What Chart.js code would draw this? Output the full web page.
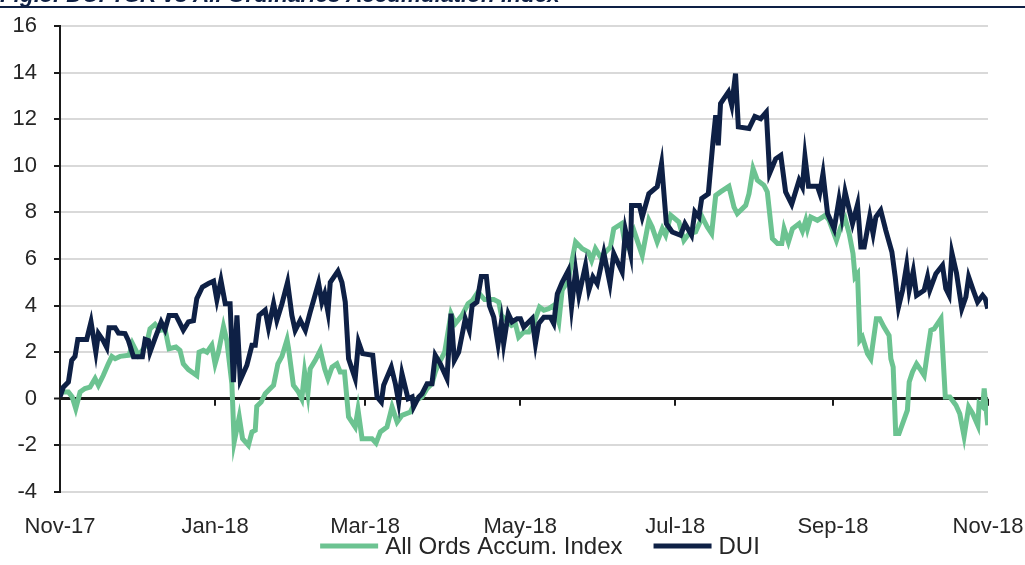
<!DOCTYPE html>
<html><head><meta charset="utf-8">
<script src="https://cdn.jsdelivr.net/npm/chart.js@4.4.0/dist/chart.umd.min.js"></script>
<style>
html,body{margin:0;padding:0;background:#fff;overflow:hidden;width:1025px;height:565px;}
#wrap{position:relative;width:1025px;height:565px;overflow:hidden;}
#title{position:absolute;left:0;top:-16px;font:italic bold 22.5px "Liberation Sans",Arial,sans-serif;color:#0e2045;white-space:nowrap;line-height:22.5px;z-index:2;}
#rule{position:absolute;left:0;top:6px;width:1025px;height:2px;background:#0e2045;z-index:2;}
canvas{position:absolute;left:0;top:0;}
</style></head>
<body><div id="wrap"><div id="title">Fig.5: DUI TSR vs All Ordinaries Accumulation Index</div><div id="rule"></div><canvas id="c" width="1025" height="565"></canvas></div>
<script>
// x-axis ticks (days since 1 Nov 2017)
const tickDays = [0, 61, 120, 181, 242, 304, 365];
const tickLabels = ['Nov-17', 'Jan-18', 'Mar-18', 'May-18', 'Jul-18', 'Sep-18', 'Nov-18'];

// DUI series (day offset, %)
const duiDays = [0,1.3,3.3,4.6,5.9,7.0,10.5,12.2,14.1,15.1,17.0,18.4,19.3,21.7,23.0,25.6,26.9,28.9,32.4,33.5,34.8,35.4,37.4,39.8,41.3,42.9,45.6,46.9,48.5,50.5,52.5,53.8,56.0,58.4,60.4,61.7,63.3,65.0,66.9,68.2,69.6,70.9,73.5,75.5,76.8,78.3,80.7,82.0,84.0,85.3,87.3,89.5,91.2,92.5,94.5,96.5,98.4,101.7,103.0,104.1,105.4,106.3,109.3,110.9,112.2,113.5,116.1,117.4,119.0,123.0,124.7,126.4,127.3,130.3,131.9,133.2,134.5,136.9,138.5,139.1,141.1,142.4,144.4,146.3,147.6,149.6,152.2,153.8,155.1,156.8,159.4,161.0,162.1,164.0,165.7,167.7,168.9,170.6,172.3,173.6,174.5,176.3,177.8,179.8,181.1,182.4,185.7,187.0,188.3,190.3,192.9,194.2,195.6,197.5,199.9,201.2,202.8,204.1,206.7,208.0,209.6,211.3,213.9,216.3,217.8,221.1,222.4,224.4,224.8,227.9,229.0,231.6,234.9,236.6,238.5,240.8,244.1,245.8,248.4,249.7,251.3,252.4,255.0,256.8,257.9,258.9,259.8,262.9,264.2,265.7,266.8,271.0,273.3,275.6,277.8,279.1,281.5,283.5,285.4,287.8,290.7,292.0,293.0,294.4,297.9,298.8,300.1,301.9,304.5,306.4,307.5,308.8,311.7,313.7,315.0,316.3,318.5,319.8,320.9,322.8,324.8,327.2,328.5,329.8,331.4,333.0,334.0,335.6,336.9,339.9,341.2,342.1,344.5,347.1,348.4,349.7,350.8,352.6,354.7,356.3,357.4,359.2,360.9,362.9,363.9,364.9];
const duiValues = [0.08,0.5,0.72,1.65,1.82,2.55,2.55,3.3,2.0,2.8,2.5,2.2,3.05,3.05,2.82,2.8,2.5,1.8,1.8,2.55,2.5,2.0,2.6,3.3,2.97,3.58,3.58,3.3,2.95,3.3,3.35,4.3,4.8,4.95,5.05,4.25,5.08,4.08,4.08,0.72,3.58,0.8,1.44,2.3,2.3,3.58,3.8,3.05,4.08,3.37,4.08,5.0,3.58,2.94,3.37,2.94,3.72,4.97,4.15,4.5,3.72,5.0,5.48,5.0,4.15,1.72,0.87,2.44,1.94,1.87,0.08,-0.14,0.58,1.36,0.65,-0.14,1.08,0.0,0.08,-0.35,0.08,0.22,0.65,0.65,1.87,1.5,0.87,3.65,1.65,2.0,3.44,2.94,4.0,4.15,5.25,5.25,4.0,3.5,2.34,3.3,2.37,3.65,3.3,3.44,3.44,3.08,3.44,2.37,3.23,3.5,3.5,3.23,4.5,5.0,5.5,3.94,5.5,4.44,5.73,4.66,5.23,4.94,6.26,4.94,6.23,5.44,7.23,6.23,8.3,8.3,7.8,8.8,9.1,10.1,7.52,7.16,7.02,7.52,7.02,8.02,7.8,8.6,8.8,11.0,12.17,10.88,12.67,13.17,12.6,13.96,11.67,11.6,12.12,12.02,12.3,9.67,10.3,10.45,8.88,8.35,9.38,9.09,10.4,9.12,9.12,8.83,9.67,7.95,7.3,8.55,7.83,8.88,7.52,8.35,6.51,6.51,7.83,7.09,7.8,8.09,7.23,6.3,5.23,3.94,4.66,5.73,4.66,5.48,4.44,4.66,5.23,4.66,5.37,5.73,4.73,4.44,6.26,5.4,3.87,4.37,5.23,4.66,4.15,4.44,4.3,3.87];

// All Ords Accumulation Index series (day offset, %)
const ordsDays = [0,3.3,4.8,6.2,7.9,9.8,11.8,13.8,15.1,17.0,19.0,20.4,21.7,23.6,27.2,28.5,30.8,32.4,34.1,35.4,37.4,39.4,41.3,42.9,45.6,47.2,48.5,50.5,53.8,54.7,56.4,57.8,59.7,61.0,62.3,64.3,65.6,67.6,68.5,70.5,71.8,74.1,75.5,76.8,77.4,79.1,80.7,82.7,84.0,85.7,87.3,89.3,89.9,91.8,93.8,95.1,96.2,97.5,98.4,100.4,102.4,104.1,105.4,107.0,108.9,110.2,111.9,113.5,116.1,117.2,118.8,122.7,124.3,126.0,128.6,130.6,132.6,134.5,137.8,140.0,142.4,144.4,146.3,147.6,148.9,151.3,153.8,155.5,158.1,160.5,162.3,164.4,167.0,170.6,172.6,173.6,175.9,177.6,179.1,180.4,182.4,184.4,186.3,188.6,190.3,192.2,194.2,196.2,197.5,199.9,202.8,205.4,207.8,209.1,210.6,212.6,214.6,216.5,217.8,220.9,222.4,225.7,229.0,231.6,232.9,234.9,236.9,238.2,240.2,243.4,245.4,247.4,250.0,252.6,254.6,256.3,257.9,259.8,263.1,265.1,266.4,269.7,271.0,272.6,274.3,276.9,278.2,280.2,282.2,283.9,284.8,286.5,288.1,290.7,292.0,293.3,294.0,295.3,297.9,299.9,301.0,302.5,305.4,307.1,308.8,310.4,311.9,312.7,313.7,314.6,315.6,317.6,318.9,321.1,322.4,324.1,326.1,326.8,327.7,328.7,330.0,333.3,334.0,335.3,336.9,338.2,339.9,341.2,342.5,343.8,346.5,348.2,350.0,352.4,353.9,355.6,357.4,359.0,361.0,361.5,362.9,363.5,364.9];
const ordsValues = [0.29,0.29,0.08,-0.42,0.29,0.44,0.5,0.87,0.58,1.0,1.5,1.82,1.72,1.82,1.87,2.37,1.87,2.08,2.37,3.0,3.2,2.94,3.0,2.15,2.22,2.08,1.5,1.25,1.0,2.0,2.08,2.0,2.3,1.5,2.0,3.1,2.5,0.65,-1.85,-0.78,-1.71,-2.0,-1.42,-1.35,-0.32,-0.14,0.22,0.44,0.58,1.5,1.82,2.54,2.15,0.58,0.29,0.0,1.15,0.22,1.29,1.65,2.08,1.29,0.87,1.36,1.5,1.15,1.15,-0.78,-1.21,-0.46,-1.71,-1.71,-1.9,-1.42,-1.21,-0.35,-1.0,-0.71,-0.57,-0.06,0.08,0.44,0.65,1.15,1.5,2.0,3.65,3.23,3.58,4.08,4.23,4.58,4.26,4.26,4.15,3.58,3.34,3.15,3.23,2.65,2.87,2.87,3.23,3.94,3.8,3.87,4.01,3.3,4.66,5.08,6.73,6.44,6.3,5.94,6.44,6.08,6.3,6.51,7.3,7.52,6.51,7.23,6.16,7.66,7.37,6.73,7.3,7.02,7.88,7.59,6.8,7.09,7.16,7.8,7.37,7.09,8.73,8.88,9.12,8.23,7.95,8.3,8.8,9.88,9.38,9.16,8.88,6.88,6.66,6.66,7.3,6.73,7.3,7.52,7.2,7.66,7.3,7.8,7.66,7.8,7.88,7.66,6.8,7.37,7.73,7.09,6.23,5.23,5.37,2.51,2.65,1.94,1.72,3.44,3.44,3.08,2.72,1.72,1.36,-1.49,-1.49,-0.49,0.72,1.15,1.5,1.29,1.0,2.0,2.94,3.0,3.44,0.08,0.08,-0.28,-0.64,-1.61,-0.35,-0.64,-1.14,-0.21,-0.35,0.44,-1.14];

const FONT = '"Liberation Sans", Arial, sans-serif';
const TXT = '#262626';
const GREEN = '#6cc391';
const NAVY = '#0e2045';

const zeroTicks = {
  id: 'zeroTicks',
  beforeDatasetsDraw(chart) {
    const {ctx, scales: {x, y}} = chart;
    const y0 = y.getPixelForValue(0);
    ctx.save();
    ctx.strokeStyle = '#1a1a1a';
    ctx.lineWidth = 2;
    tickDays.forEach((d, i) => {
      if (i === 0) return;
      const px = Math.round(x.getPixelForValue(d));
      ctx.beginPath(); ctx.moveTo(px, y0); ctx.lineTo(px, y0 + 7); ctx.stroke();
    });
    ctx.restore();
  }
};

// legend drawn from the dataset labels and colours
const bottomLegend = {
  id: 'bottomLegend',
  afterDraw(chart) {
    const {ctx} = chart;
    const items = chart.data.datasets.map(ds => ({text: ds.label, color: ds.borderColor}));
    const BOX = 58, GAP = 7, SEP = 31, CY = 546, CX = 540;
    ctx.save();
    ctx.font = '24px ' + FONT;
    const widths = items.map(it => BOX + GAP + ctx.measureText(it.text).width);
    const total = widths.reduce((a, b) => a + b, 0) + SEP * (items.length - 1);
    let x = CX - total / 2;
    items.forEach((it, i) => {
      ctx.fillStyle = it.color;
      ctx.fillRect(x, CY - 2.5, BOX, 5);
      ctx.fillStyle = TXT; ctx.textBaseline = 'middle'; ctx.textAlign = 'left';
      ctx.fillText(it.text, x + BOX + GAP, CY + 1);
      x += widths[i] + SEP;
    });
    ctx.restore();
  }
};

new Chart(document.getElementById('c'), {
  type: 'line',
  data: {
    datasets: [
      { label: 'All Ords Accum. Index', data: ordsDays.map((d, i) => ({x: d, y: ordsValues[i]})),
        borderColor: GREEN, backgroundColor: GREEN, borderWidth: 5, pointRadius: 0, tension: 0, order: 1 },
      { label: 'DUI', data: duiDays.map((d, i) => ({x: d, y: duiValues[i]})),
        borderColor: NAVY, backgroundColor: NAVY, borderWidth: 5, pointRadius: 0, tension: 0, order: 0 }
    ]
  },
  options: {
    responsive: false, animation: false, devicePixelRatio: 1,
    layout: { padding: { top: 26, left: 0, right: 0, bottom: 0 } },
    plugins: {
      tooltip: { enabled: false },
      legend: { display: false }
    },
    scales: {
      x: {
        type: 'linear', min: 0, max: 365,
        grid: { display: false, drawTicks: false },
        border: { display: false },
        afterBuildTicks(s) { s.ticks = tickDays.map(v => ({value: v})); },
        afterFit(s) { s.height = 73; s.paddingLeft = 0; s.paddingRight = 37; },
        ticks: {
          autoSkip: false, maxRotation: 0, padding: 22, color: TXT,
          font: { family: FONT, size: 22 },
          callback(v) { const i = tickDays.indexOf(v); return i >= 0 ? tickLabels[i] : ''; }
        }
      },
      y: {
        min: -4, max: 16,
        afterFit(s) { s.width = 60; s.paddingTop = 0; s.paddingBottom = 0; },
        ticks: { stepSize: 2, color: TXT, padding: 17, font: { family: FONT, size: 22 } },
        grid: {
          color: c => (c.tick && c.tick.value === 0) ? '#1a1a1a' : '#d9d9d9',
          lineWidth: c => (c.tick && c.tick.value === 0) ? 3 : 2,
          tickColor: '#1a1a1a', tickLength: 6, tickWidth: 2, drawTicks: true
        },
        border: { display: true, color: '#1a1a1a', width: 2 }
      }
    }
  },
  plugins: [zeroTicks, bottomLegend]
});
</script>
</body></html>
